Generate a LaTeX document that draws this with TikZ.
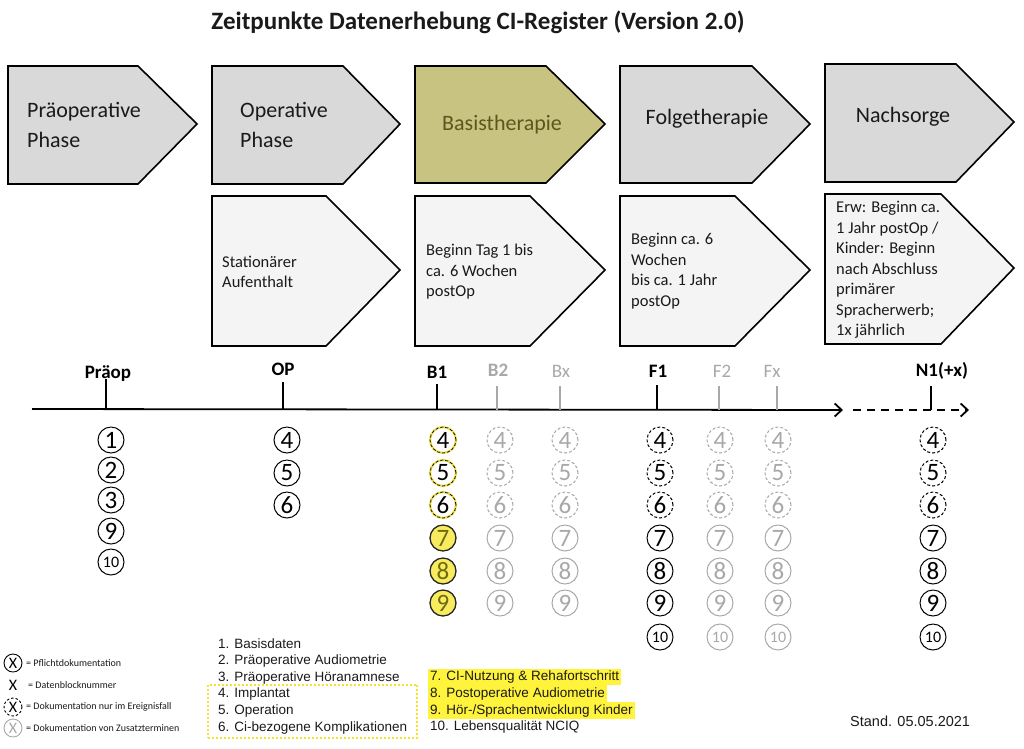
\documentclass[tikz,border=0pt]{standalone}
\usepackage{fontspec}
\setmainfont{Carlito}
\newfontfamily\listfont{Liberation Sans}
\usepackage{xcolor}
\usepackage{tikz}
\usetikzlibrary{arrows.meta,fit}
\definecolor{ink}{HTML}{1A1A1A}
\definecolor{phase}{HTML}{D9D9D9}
\definecolor{sub}{HTML}{F4F4F4}
\definecolor{basis}{HTML}{C9C381}
\definecolor{basistext}{HTML}{5A581C}
\definecolor{greyc}{HTML}{A8A8A8}
\definecolor{ringy}{HTML}{EDE04A}
\definecolor{hly}{HTML}{F8EC5E}
\definecolor{hltext}{HTML}{6E6A10}
\definecolor{mark}{HTML}{FFF33C}
\definecolor{dotbox}{HTML}{F5E12E}
\newcommand\fsz[2]{\fontsize{#1}{#2}\selectfont}
\newcommand\dig[1]{\ifnum#1>9 \fsz{16}{16}\fi#1}
\tikzset{
  phasebox/.style={draw=black, line width=1.6pt, fill=phase},
  subbox/.style={draw=black, line width=1.6pt, fill=sub},
  phaselab/.style={inner sep=0pt, align=left, anchor=west, font=\fsz{22}{30}, text=ink},
  sublab/.style={inner sep=0pt, align=left, anchor=west, font=\fsz{16.5}{20.5}, text=ink},
  axis/.style={line width=1.8pt},
  tickmain/.style={line width=2.8pt},
  tickextra/.style={line width=2.6pt, draw=greyc},
  tlab/.style={inner sep=0pt, font=\bfseries\fsz{19}{19}},
  tlabx/.style={inner sep=0pt, font=\fsz{19}{19}, text=greyc},
  num/.style={circle, inner sep=0pt, minimum size=26pt, line width=1pt, font=\fsz{25}{25}},
  req/.style={num, draw=black},
  evt/.style={num, draw=black, dash pattern=on 3pt off 2pt},
  extra/.style={num, draw=greyc, text=greyc},
  extraevt/.style={extra, dash pattern=on 3pt off 2pt},
  ring/.style={num, draw=ringy, line width=2.2pt,
    postaction={draw=black, line width=0.7pt, dash pattern=on 3pt off 2pt}},
  hl/.style={num, fill=hly, draw=black!85, line width=1.3pt, text=hltext},
  keysym/.style={circle, inner sep=0pt, minimum size=18pt, line width=0.9pt, font=\fsz{16}{16}},
  keytext/.style={inner sep=0pt, anchor=west, font=\fsz{10}{10}, text=ink},
  item/.style={inner sep=0pt, anchor=west, font=\listfont\fsz{13.5}{13.5}, text=ink},
  marked/.style={item, fill=mark, inner xsep=2pt, minimum height=16.8pt}
}

\begin{document}
\begin{tikzpicture}[x=1pt, y=-1pt]
  \useasboundingbox (0,0) rectangle (1024,748);

  \node[font=\bfseries\fsz{25}{25}, text=ink] (title) at (478,22)
    {Zeitpunkte Datenerhebung CI-Register (Version 2.0)};

  % phases, top row
  \draw[phasebox] (8,66) -- (138,66) -- (197,124) -- (138,184) -- (8,184) -- cycle;
  \draw[phasebox] (212,66) -- (343,66) -- (400,124) -- (343,184) -- (212,184) -- cycle;
  \draw[phasebox, fill=basis] (415,66) -- (546,66) -- (605,124) -- (546,183) -- (415,183) -- cycle;
  \draw[phasebox] (620,66) -- (752,66) -- (810,124) -- (752,183) -- (620,183) -- cycle;
  \draw[phasebox] (825,64) -- (956,64) -- (1014,122) -- (956,182) -- (825,182) -- cycle;
  \node[phaselab] (prephase) at (27,125) {Präoperative\\Phase};
  \node[phaselab] (opphase) at (240,125) {Operative\\Phase};
  \node[phaselab, anchor=center, text=basistext] (basisphase) at (502,125) {Basistherapie};
  \node[phaselab, anchor=center] (folgephase) at (707,119) {Folgetherapie};
  \node[phaselab, anchor=center] (nachphase) at (903,117) {Nachsorge};

  % phases, bottom row
  \draw[subbox] (212,196) -- (326,196) -- (400,270) -- (326,346) -- (212,346) -- cycle;
  \draw[subbox] (415,196) -- (530,196) -- (605,270) -- (530,346) -- (415,346) -- cycle;
  \draw[subbox] (620,196) -- (735,196) -- (810,270) -- (735,346) -- (620,346) -- cycle;
  \draw[subbox] (825,194) -- (941,194) -- (1014,268) -- (941,344) -- (825,344) -- cycle;
  \node[sublab] (opsub) at (222,272) {Stationärer\\Aufenthalt};
  \node[sublab] (basissub) at (426,272) {Beginn Tag 1 bis\\ca. 6 Wochen\\postOp};
  \node[sublab] (folgesub) at (631,271) {Beginn ca. 6\\Wochen\\bis ca. 1 Jahr\\postOp};
  \node[sublab] (nachsub) at (836,270) {Erw: Beginn ca.\\1 Jahr postOp /\\Kinder: Beginn\\nach Abschluss\\primärer\\Spracherwerb;\\1x jährlich};

  % timeline
  \coordinate (t0) at (32,409);
  \coordinate (t1) at (843,410);
  \coordinate (t2) at (853,410);
  \coordinate (t3) at (969,410);
  \draw[axis, -{Straight Barb[length=7pt, width=13pt]}] (t0) -- (t1);
  \draw[axis, dash pattern=on 8pt off 6pt, -{Straight Barb[length=7pt, width=13pt]}] (t2) -- (t3);
  \foreach \x/\top in {106/379, 283/382, 437/384, 657/385, 931/386}
    \draw[tickmain] (\x,\top) -- (\x,410);
  \foreach \x in {497, 560, 719, 777}
    \draw[tickextra] (\x,386) -- (\x,410);
  \node[tlab] (tpre) at (108,374) {Präop};
  \node[tlab] (top) at (283,369) {OP};
  \node[tlab] (tb1) at (437,372) {B1};
  \node[tlab, text=greyc] (tb2) at (498,370) {B2};
  \node[tlabx] (tbx) at (561,371) {Bx};
  \node[tlab] (tf1) at (658,371) {F1};
  \node[tlabx] (tf2) at (722,371) {F2};
  \node[tlabx] (tfx) at (772,371) {Fx};
  \node[tlab] (tn1) at (942,371) {N1(+x)};

  % data blocks per time point
  \foreach \n/\y in {1/440, 2/470, 3/500, 9/531, 10/562}
    \node[req] (pre\n) at (111,\y) {\dig{\n}};
  \foreach \n/\y in {4/440, 5/473, 6/505}
    \node[req] (op\n) at (287,\y) {\n};
  \foreach \n/\y in {4/440, 5/473, 6/505} {
    \node[ring] (b1\n) at (443,\y) {\n};
    \node[evt] (f1\n) at (660,\y) {\n};
    \node[evt] (n1\n) at (933,\y) {\n};
    \foreach \col/\x in {b2/500, bx/565, f2/720, fx/778}
      \node[extraevt] (\col\n) at (\x,\y) {\n};
  }
  \foreach \n/\y in {7/538, 8/571, 9/603} {
    \node[hl] (b1\n) at (443,\y) {\n};
    \node[extra] (b2\n) at (500,\y) {\n};
    \node[extra] (bx\n) at (565,\y) {\n};
  }
  \foreach \n/\y in {7/538, 8/571, 9/603, 10/637} {
    \node[req] (f1\n) at (660,\y) {\dig{\n}};
    \node[extra] (f2\n) at (720,\y) {\dig{\n}};
    \node[extra] (fx\n) at (778,\y) {\dig{\n}};
    \node[req] (n1\n) at (933,\y) {\dig{\n}};
  }

  % key
  \node[keysym, draw=black] (k1) at (13,663) {X};
  \node[keysym] (k2) at (13,685) {X};
  \node[keysym, draw=black, dash pattern=on 2.5pt off 2pt] (k3) at (13,707) {X};
  \node[keysym, draw=greyc, text=greyc] (k4) at (13,728) {X};
  \node[keytext] (k1t) at (26,663) {= Pflichtdokumentation};
  \node[keytext] (k2t) at (28,685) {= Datenblocknummer};
  \node[keytext] (k3t) at (26,707) {= Dokumentation nur im Ereignisfall};
  \node[keytext] (k4t) at (26,728) {= Dokumentation von Zusatzterminen};

  % list of data blocks
  \node[item] (item1) at (218,644) {1. Basisdaten};
  \node[item] (item2) at (218,661) {2. Präoperative Audiometrie};
  \node[item] (item3) at (218,678) {3. Präoperative Höranamnese};
  \node[item] (item4) at (218,694) {4. Implantat};
  \node[item] (item5) at (218,711) {5. Operation};
  \node[item] (item6) at (218,728) {6. Ci-bezogene Komplikationen};
  \node[draw=dotbox, line width=2pt, dotted, inner xsep=10pt, inner ysep=3pt,
    fit=(item4)(item6)] (blockbox) {};
  \node[marked] (item7) at (428,677) {7. CI-Nutzung \& Rehafortschritt};
  \node[marked] (item8) at (428,693.8) {8. Postoperative Audiometrie};
  \node[marked] (item9) at (428,710.6) {9. Hör-/Sprachentwicklung Kinder\hspace{6pt}};
  \node[item] (item10) at (430,727) {10. Lebensqualität NCIQ};

  \node[item, font=\listfont\fsz{14.5}{14.5}] (stand) at (850,721) {Stand. 05.05.2021};
\end{tikzpicture}
\end{document}
